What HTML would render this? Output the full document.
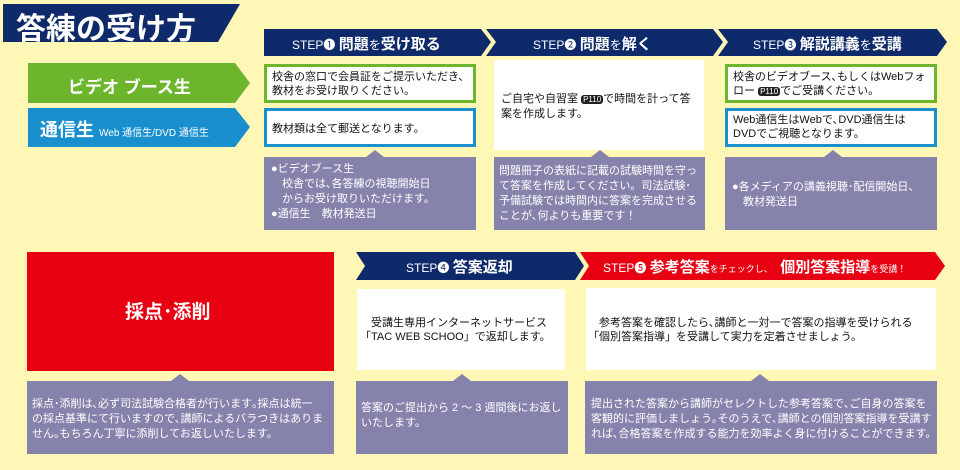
<!DOCTYPE html>
<html><head><meta charset="utf-8"><style>
body{margin:0;background:#fff7b5;}
#w{position:relative;width:960px;height:470px;overflow:hidden;background:#fff7b5;font-family:"Liberation Sans","Noto Sans CJK JP",sans-serif;}
.t{position:absolute;white-space:nowrap;}
.s{font-size:11px;color:#111;line-height:14px;}
.p{font-size:11px;color:#fff;line-height:15px;}
.h{color:#fff;font-size:12px;}
.h b{font-size:15px;}
</style></head><body><div id="w">
<svg width="960" height="470" style="position:absolute;left:0;top:0">
<polygon points="3,4 240,4 218,42 3,42" fill="#0e2a6b"/>
<polygon points="264,29 481,29 491,42 481,56 264,56" fill="#0e2a6b"/>
<polygon points="486,29 713,29 723,42 713,56 486,56 496,42" fill="#0e2a6b"/>
<polygon points="718,29 937,29 947,42 937,56 718,56 728,42" fill="#0e2a6b"/>
<polygon points="28,63 235,63 250,83 235,103 28,103" fill="#6db52c"/>
<polygon points="28,108 235,108 250,127 235,147 28,147" fill="#1a8fce"/>
<rect x="265.5" y="65.5" width="209" height="36" fill="#fff" stroke="#6db52c" stroke-width="3"/>
<rect x="265.5" y="109.5" width="209" height="36" fill="#fff" stroke="#1a8fce" stroke-width="3"/>
<rect x="494" y="60" width="210" height="90" fill="#fff"/>
<rect x="726.5" y="65.5" width="209" height="36" fill="#fff" stroke="#6db52c" stroke-width="3"/>
<rect x="726.5" y="109.5" width="209" height="36" fill="#fff" stroke="#1a8fce" stroke-width="3"/>
<rect x="264" y="157" width="212" height="73" fill="#8582ab"/><polygon points="366,157 375,150 384,157" fill="#8582ab"/>
<rect x="494" y="157" width="211" height="73" fill="#8582ab"/><polygon points="591,157 600,150 609,157" fill="#8582ab"/>
<rect x="725" y="157" width="212" height="73" fill="#8582ab"/><polygon points="824,157 833,150 842,157" fill="#8582ab"/>
<rect x="27" y="252" width="307" height="119" fill="#e60012"/>
<rect x="27" y="381" width="307" height="73" fill="#8582ab"/><polygon points="171,381 180,374 189,381" fill="#8582ab"/>
<polygon points="356,252 575,252 584,266 575,280 356,280 365,266" fill="#0e2a6b"/>
<polygon points="580,252 935,252 945,266 935,280 580,280 589,266" fill="#e60012"/>
<rect x="357" y="289" width="208" height="81" fill="#fff"/>
<rect x="356" y="381" width="212" height="73" fill="#8582ab"/><polygon points="453,381 462,374 471,381" fill="#8582ab"/>
<rect x="586" y="288" width="350" height="82" fill="#fff"/>
<rect x="585" y="381" width="352" height="73" fill="#8582ab"/><polygon points="751,381 760,374 769,381" fill="#8582ab"/>
</svg>
<div class="t" style="left:16px;top:4px;font-size:30px;font-weight:bold;color:#fff;">答練の受け方</div>
<div class="t h" style="left:292px;top:33px;">STEP❶ <b>問題</b>を<b>受け取る</b></div>
<div class="t h" style="left:533px;top:33px;">STEP❷ <b>問題</b>を<b>解く</b></div>
<div class="t h" style="left:753px;top:33px;">STEP❸ <b>解説講義</b>を<b>受講</b></div>
<div class="t" style="left:68px;top:73px;font-size:17px;font-weight:bold;color:#fff;">ビデオ ブース生</div>
<div class="t" style="left:40px;top:116px;font-size:18px;font-weight:bold;color:#fff;">通信生 <span style="font-size:10px;font-weight:normal">Web 通信生/DVD 通信生</span></div>
<div class="t s" style="left:272px;top:70px;">校舎の窓口で会員証をご提示いただき、<br>教材をお受け取りください。</div>
<div class="t s" style="left:272px;top:122px;">教材類は全て郵送となります。</div>
<div class="t p" style="left:271px;top:162px;">●ビデオブース生<br>　校舎では､各答練の視聴開始日<br>　からお受け取りいただけます。<br>●通信生　教材発送日</div>
<div class="t s" style="left:501px;top:92px;">ご自宅や自習室 <span style="background:#222;color:#fff;font-size:8px;border-radius:3px;padding:0 2px">P110</span>で時間を計って答<br>案を作成します。</div>
<div class="t p" style="left:499px;top:164px;">問題冊子の表紙に記載の試験時間を守っ<br>て答案を作成してください。司法試験･<br>予備試験では時間内に答案を完成させる<br>ことが､何よりも重要です！</div>
<div class="t s" style="left:733px;top:70px;">校舎のビデオブース､もしくはWebフォ<br>ロー <span style="background:#222;color:#fff;font-size:8px;border-radius:3px;padding:0 2px">P110</span>でご受講ください。</div>
<div class="t s" style="left:733px;top:113px;">Web通信生はWebで､DVD通信生は<br>DVDでご視聴となります。</div>
<div class="t p" style="left:732px;top:180px;">●各メディアの講義視聴･配信開始日、<br>　教材発送日</div>
<div class="t" style="left:125px;top:297px;font-size:19px;font-weight:bold;color:#fff;">採点･添削</div>
<div class="t p" style="left:32px;top:397px;">採点･添削は､必ず司法試験合格者が行います｡採点は統一<br>の採点基準にて行いますので､講師によるバラつきはありま<br>せん｡もちろん丁寧に添削してお返しいたします。</div>
<div class="t h" style="left:406px;top:256px;">STEP❹ <b>答案返却</b></div>
<div class="t h" style="left:603px;top:256px;">STEP❺ <b>参考答案</b><span style="font-size:9px">をチェックし、</span>　<b>個別答案指導</b><span style="font-size:9px">を受講！</span></div>
<div class="t s" style="left:360px;top:316px;">　受講生専用インターネットサービス<br>「TAC WEB SCHOO」で返却します。</div>
<div class="t p" style="left:361px;top:401px;">答案のご提出から 2 ～ 3 週間後にお返し<br>いたします。</div>
<div class="t s" style="left:588px;top:316px;">　参考答案を確認したら､講師と一対一で答案の指導を受けられる<br>「個別答案指導」を受講して実力を定着させましょう。</div>
<div class="t p" style="left:591px;top:397px;">提出された答案から講師がセレクトした参考答案で､ご自身の答案を<br>客観的に評価しましょう｡そのうえで､講師との個別答案指導を受講す<br>れば､合格答案を作成する能力を効率よく身に付けることができます。</div>
</div></body></html>
